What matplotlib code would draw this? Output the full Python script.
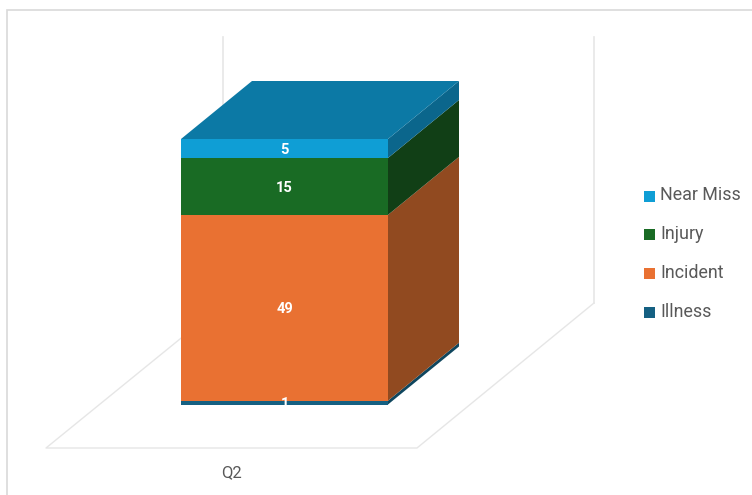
import matplotlib
matplotlib.use("Agg")
import matplotlib.pyplot as plt
from matplotlib.patches import Polygon, Rectangle

# datos de la barra apilada
categorias = ["Q2"]
series = ["Illness", "Incident", "Injury", "Near Miss"]
valores = [1, 49, 15, 5]
colores = ["#156082", "#E97132", "#196B24", "#0F9ED5"]
colores_lado = ["#0F465E", "#914A20", "#113F16", "#0B668C"]
color_tapa = "#0C79A5"

plt.rcParams["font.family"] = ["Roboto", "DejaVu Sans"]

W, H = 752, 495
fig = plt.figure(figsize=(W / 100, H / 100), dpi=100)

# ejes de fondo en pixeles: marco, paredes y suelo
fondo = fig.add_axes([0, 0, 1, 1])
fondo.set_xlim(0, W)
fondo.set_ylim(H, 0)
fondo.axis("off")

gris = "#E6E6E6"
fondo.plot([7, 7, W], [H, 10, 10], color="#D9D9D9", lw=1.2, solid_joinstyle="miter")
fondo.plot([223, 223], [37, 304], color=gris, lw=1.2)
fondo.plot([594, 594], [37, 303], color=gris, lw=1.2)
fondo.plot([223, 46, 417, 594], [304, 448, 448, 303], color=gris, lw=1.0)

# ejes de la barra, en el plano frontal (escala de valores real)
x0, x1 = 181, 388
y_base, y_tope = 404.5, 139
barra = fig.add_axes([x0 / W, 1 - y_base / H, (x1 - x0) / W, (y_base - y_tope) / H])
barra.set_xlim(0, 1)
barra.set_ylim(0, sum(valores))
barra.axis("off")
barra.patch.set_alpha(0)

# profundidad de la barra en unidades de los ejes
prof_x = 71 / (x1 - x0)
prof_y = 58 / ((y_base - y_tope) / sum(valores))

base = 0
for v, c, cl in zip(valores, colores, colores_lado):
    barra.bar(0.5, v, width=1, bottom=base, color=c, linewidth=0, clip_on=False, zorder=3)
    # cara lateral
    lado = Polygon([(1, base), (1 + prof_x, base + prof_y),
                    (1 + prof_x, base + v + prof_y), (1, base + v)],
                   facecolor=cl, edgecolor="none", clip_on=False, zorder=2)
    barra.add_patch(lado)
    base += v

# tapa superior
tapa = Polygon([(0, base), (prof_x, base + prof_y), (1 + prof_x, base + prof_y), (1, base)],
               facecolor=color_tapa, edgecolor="none", clip_on=False, zorder=2)
barra.add_patch(tapa)

# etiquetas de valor
base = 0
for v in valores:
    barra.text(0.5, base + v / 2 - 0.45, str(v), color="white", fontsize=10.5, fontweight="bold",
               ha="center", va="center", clip_on=False, zorder=5)
    base += v

fondo.text(231, 472.5, categorias[0], color="#595959", fontsize=12, ha="center", va="center")

# leyenda a mano, en orden inverso al apilado
for i, (nombre, c) in enumerate(zip(series[::-1], colores[::-1])):
    y = 195.5 + i * 38.7
    fondo.add_patch(Rectangle((644, y - 5), 11, 11, facecolor=c, edgecolor="none"))
    fondo.text(660, y, nombre, color="#595959", fontsize=12.9, ha="left", va="center")

fig.savefig("out.png", dpi=100)
